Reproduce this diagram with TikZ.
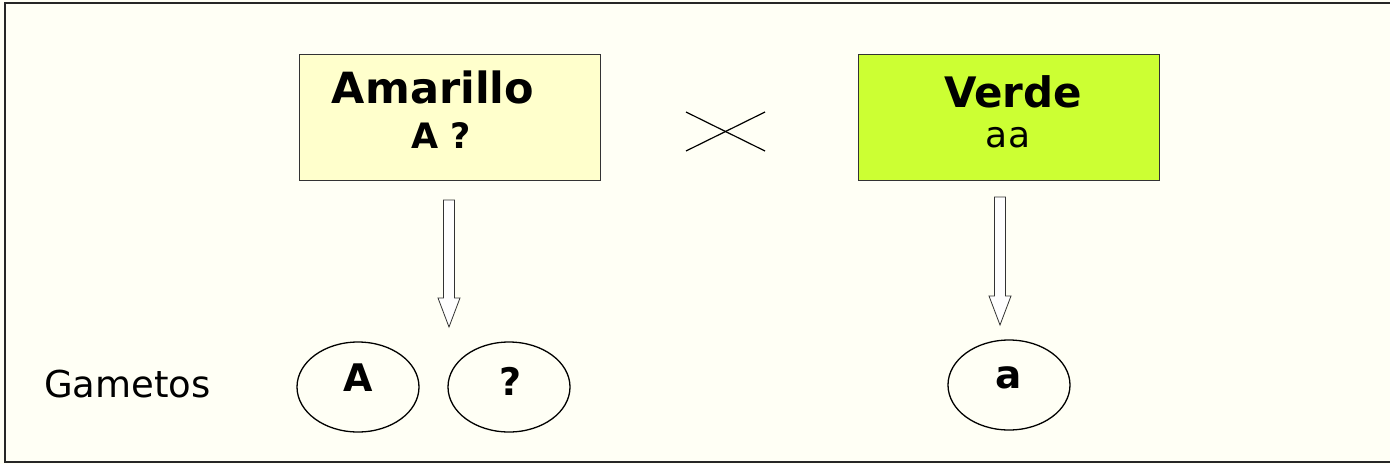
\documentclass[tikz,border=0pt]{standalone}
\usepackage{fontspec}
\setmainfont{DejaVu Sans}
\definecolor{bgc}{HTML}{FFFFF5}
\definecolor{yelc}{HTML}{FFFFCC}
\definecolor{grnc}{HTML}{CCFF33}
\definecolor{edgec}{HTML}{333333}
\tikzset{
  pbox/.style={draw=edgec, line width=1pt, minimum width=301pt, minimum height=126pt, inner sep=0pt},
  gam/.style={draw=black, line width=1.3pt, ellipse, minimum width=122pt, minimum height=90pt, inner sep=0pt},
  blockarrow/.style={draw=black!80, line width=0.8pt, fill=white},
  lbl/.style={anchor=base, inner sep=0pt},
}
\usetikzlibrary{shapes.geometric}
\begin{document}
\begin{tikzpicture}[x=1pt, y=-1pt]
\useasboundingbox (0,0) rectangle (1390,464);
\fill[bgc] (0,0) rectangle (1390,464);
% frame
\draw[black!85, line width=1.6pt] (1392,3) -- (5,3) -- (5,462) -- (1392,462);
% parent boxes
\node[pbox, fill=yelc] (amar) at (449.5,117) {};
\node[pbox, fill=grnc] (verd) at (1008.5,117) {};
\node[lbl, font=\bfseries\fontsize{43}{43}\selectfont] (amart) at (433,103) {Amarillo};
\node[lbl, font=\bfseries\fontsize{35}{35}\selectfont] (amarg) at (441,148) {A ?};
\node[lbl, font=\bfseries\fontsize{42}{42}\selectfont] (verdt) at (1013,107) {Verde};
\node[lbl, font=\fontsize{36}{36}\selectfont] (verdg) at (1008,147) {aa};
% cross
\coordinate (c1) at (686,112);
\coordinate (c2) at (765,151);
\coordinate (c3) at (686,151);
\coordinate (c4) at (765,112);
\draw[black, line width=1.2pt] (c1) -- (c2);
\draw[black, line width=1.2pt] (c3) -- (c4);
% gametes
\node[gam] (gA) at (358,387) {};
\node[gam] (gQ) at (509,387) {};
\node[gam] (ga) at (1009,385) {};
\node[lbl, font=\bfseries\fontsize{38}{38}\selectfont] at (358,391) {A};
\node[lbl, font=\bfseries\fontsize{38}{38}\selectfont] at (511,395) {?};
\node[lbl, font=\bfseries\fontsize{39}{39}\selectfont] at (1009,388) {a};
\node[anchor=base west, inner sep=0pt, font=\fontsize{37}{37}\selectfont] (gamt) at (44,397) {Gametos};
% block arrows
\draw[blockarrow] (443.5,200) -- (454.5,200) -- (454.5,298) -- (460,298) -- (449,327) -- (438,298) -- (443.5,298) -- cycle;
\draw[blockarrow] (994.5,197) -- (1005.5,197) -- (1005.5,296) -- (1011,296) -- (1000,325) -- (989,296) -- (994.5,296) -- cycle;
\end{tikzpicture}
\end{document}
